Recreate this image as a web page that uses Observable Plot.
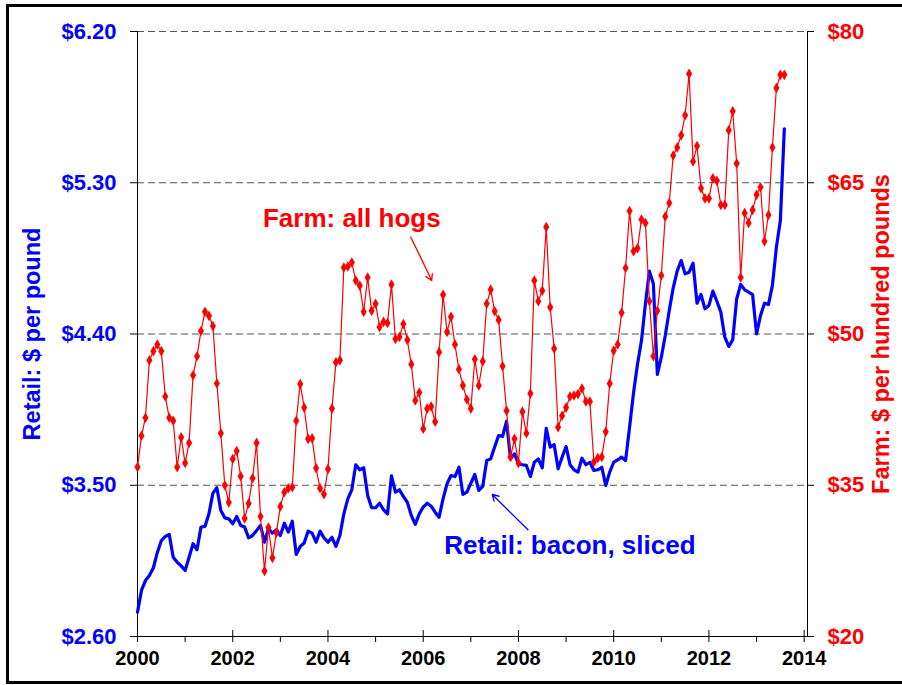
<!DOCTYPE html>
<html><head><meta charset="utf-8">
<script src="https://cdn.jsdelivr.net/npm/d3@7"></script>
<script src="https://cdn.jsdelivr.net/npm/@observablehq/plot@0.6"></script>
<style>
body{margin:0;background:#fff;}
#wrap{position:relative;width:902px;height:685px;overflow:hidden;background:#fff;}
#border{position:absolute;left:6px;top:4px;width:930px;height:680px;border:3px solid #000;box-sizing:border-box;pointer-events:none;}
</style></head><body><div id="wrap"><div id="border"></div></div>
<script>
const startYear = 2000; // first month: January 2000, monthly data

// Retail: bacon, sliced ($ per pound)
const retail = [
2.745,2.874,2.933,2.963,3.009,3.10,3.17,3.195,3.207,3.072,3.042,3.02,
2.993,3.072,3.152,3.116,3.251,3.255,3.330,3.453,3.485,3.350,3.306,3.300,
3.271,3.314,3.261,3.251,3.187,3.201,3.23,3.261,3.161,3.241,3.215,3.235,
3.201,3.274,3.221,3.286,3.088,3.136,3.156,3.227,3.215,3.161,3.227,3.187,
3.161,3.191,3.136,3.201,3.330,3.419,3.473,3.622,3.592,3.604,3.439,3.366,
3.366,3.393,3.354,3.330,3.556,3.459,3.473,3.433,3.399,3.320,3.267,3.330,
3.370,3.393,3.375,3.340,3.310,3.419,3.509,3.558,3.552,3.607,3.445,3.459,
3.512,3.564,3.469,3.493,3.647,3.657,3.727,3.796,3.790,3.881,3.657,3.687,
3.628,3.622,3.618,3.552,3.637,3.657,3.604,3.838,3.727,3.741,3.598,3.667,
3.731,3.622,3.592,3.578,3.661,3.622,3.637,3.588,3.592,3.607,3.499,3.578,
3.637,3.651,3.667,3.647,3.845,4.05,4.22,4.361,4.580,4.774,4.699,4.159,
4.262,4.391,4.540,4.675,4.774,4.837,4.758,4.768,4.821,4.583,4.635,4.550,
4.570,4.655,4.595,4.530,4.381,4.326,4.366,4.610,4.695,4.663,4.649,4.635,
4.401,4.510,4.583,4.575,4.689,4.917,5.075,5.621
];

// Farm: all hogs ($ per hundred pounds)
const farm = [
36.8,39.9,41.7,47.4,48.3,48.95,48.3,43.8,41.7,41.4,36.8,39.75,
37.2,39.2,45.9,47.8,50.3,52.2,51.8,50.8,45.1,40.15,35.0,33.3,
37.6,38.4,35.9,31.7,33.2,35.7,39.2,31.9,26.5,30.8,27.8,30.3,
32.9,34.3,34.7,34.8,41.4,45.05,42.7,39.6,39.65,36.7,34.7,34.1,
36.6,42.6,47.2,47.4,56.6,56.7,57.1,55.3,54.8,52.2,55.6,52.3,
53.0,50.7,51.2,51.1,54.9,49.5,49.7,51.0,49.4,47.0,43.4,44.2,
40.6,42.6,42.8,41.3,48.2,53.9,50.2,51.7,48.95,46.5,44.9,43.5,
42.6,47.5,44.9,47.3,53.0,54.4,52.25,51.4,46.8,42.4,37.8,39.6,
37.2,42.3,40.15,44.1,55.3,53.25,54.3,60.6,52.65,48.55,40.75,41.9,
42.7,43.8,43.9,44.05,44.6,43.3,43.3,37.3,37.7,37.8,40.3,45.1,
48.35,48.95,52.1,56.55,62.2,58.2,58.5,61.35,61.0,53.25,47.8,52.3,
55.8,61.65,63.0,67.7,68.5,69.7,71.7,75.8,67.1,68.65,64.45,63.45,
63.45,65.45,65.2,62.8,62.8,70.2,72.1,66.9,55.6,62.0,61.0,62.3,
63.8,64.55,59.2,61.8,68.5,74.4,75.7,75.7
];

const leftTicks = [2.6, 3.5, 4.4, 5.3, 6.2];
const rightTicks = [20, 35, 50, 65, 80];
const gridValues = [3.5, 4.4, 5.3, 6.2];
const yearTicks = [2000, 2002, 2004, 2006, 2008, 2010, 2012, 2014];
const minorYears = [2001, 2003, 2005, 2007, 2009, 2011, 2013];

const farmLabel = [{text: "Farm: all hogs", year: 2004.50, value: 5.085}];
const retailLabel = [{text: "Retail: bacon, sliced", year: 2009.08, value: 3.14}];
const farmArrow = [{x1: 2005.74, y1: 4.976, x2: 2006.18, y2: 4.718}];
const retailArrow = [{x1: 2008.20, y1: 3.235, x2: 2007.45, y2: 3.445}];

const rMin = 2.6, rMax = 6.2, fMin = 20, fMax = 80;
const xMax = 2014.07;
const toRetail = f => rMin + (f - fMin) * (rMax - rMin) / (fMax - fMin);
const toFarm = r => fMin + (r - rMin) * (fMax - fMin) / (rMax - rMin);

const retailData = retail.map((v, i) => ({year: startYear + i / 12, value: v}));
const farmData = farm.map((v, i) => ({year: startYear + i / 12, value: toRetail(v), farm: v}));

const BLUE = "#0000ff", RED = "#ff0000";
const FONT = "'Liberation Sans', Arial, Helvetica, sans-serif";

const chart = Plot.plot({
  width: 902,
  height: 685,
  marginLeft: 137,
  marginRight: 95,
  marginTop: 31,
  marginBottom: 49,
  style: {fontFamily: FONT, fontWeight: "bold", background: "transparent", overflow: "visible"},
  x: {domain: [2000, xMax], label: null},
  y: {domain: [rMin, rMax], label: null},
  marks: [
    Plot.ruleY(gridValues, {stroke: "#555", strokeWidth: 1.2, strokeDasharray: "7,4"}),
    // axis lines
    Plot.ruleX([2000], {stroke: "#000", strokeWidth: 1}),
    Plot.ruleX([xMax], {stroke: "#000", strokeWidth: 1}),
    Plot.ruleY([rMin], {stroke: "#000", strokeWidth: 1.2}),
    // y tick marks
    Plot.ruleY(leftTicks, {x1: 2000, x2: 2000, insetLeft: -7, stroke: "#000"}),
    Plot.ruleY(rightTicks.map(toRetail), {x1: xMax, x2: xMax, insetRight: -7, stroke: "#000"}),
    // x tick marks
    Plot.ruleX(yearTicks, {y1: rMin, y2: rMin, insetTop: -6, insetBottom: -6, stroke: "#000"}),
    Plot.ruleX(minorYears, {y1: rMin, y2: rMin, insetBottom: -6, stroke: "#000"}),
    // axes labels
    Plot.axisY({ticks: leftTicks, tickSize: 0, tickPadding: 21, tickFormat: d => "$" + d.toFixed(2),
      fill: BLUE, fontSize: 22, fontWeight: "bold", fontFamily: FONT, label: null}),
    Plot.axisY({anchor: "right", ticks: rightTicks.map(toRetail), tickSize: 0, tickPadding: 20,
      tickFormat: d => "$" + Math.round(toFarm(d)), fill: RED, fontSize: 22, fontWeight: "bold", fontFamily: FONT, label: null}),
    Plot.axisX({ticks: yearTicks, tickSize: 0, tickPadding: 14, tickFormat: d => String(d),
      fill: "#000", fontSize: 20, fontWeight: "bold", fontFamily: FONT, label: null}),
    Plot.text(["Retail: $ per pound"], {frameAnchor: "left", textAnchor: "middle", dx: -105, rotate: -90, fill: BLUE,
      fontSize: 23.5, fontWeight: "bold", fontFamily: FONT}),
    Plot.text(["Farm: $ per hundred pounds"], {frameAnchor: "right", textAnchor: "middle", dx: 74, rotate: -90, fill: RED,
      fontSize: 23.5, fontWeight: "bold", fontFamily: FONT}),
    // series
    Plot.line(retailData, {x: "year", y: "value", stroke: BLUE, strokeWidth: 3.2}),
    Plot.line(farmData, {x: "year", y: "value", stroke: RED, strokeWidth: 1.2}),
    Plot.dot(farmData, {x: "year", y: "value", symbol: "diamond", r: 3.2, fill: RED, stroke: null}),
    // annotations
    Plot.text(farmLabel, {x: "year", y: "value", text: "text", fill: RED, fontSize: 26, fontWeight: "bold", fontFamily: FONT}),
    Plot.text(retailLabel, {x: "year", y: "value", text: "text", fill: BLUE, fontSize: 26, fontWeight: "bold", fontFamily: FONT}),
    Plot.arrow(farmArrow, {x1: "x1", y1: "y1", x2: "x2", y2: "y2", stroke: RED, strokeWidth: 1.3, headLength: 8}),
    Plot.arrow(retailArrow, {x1: "x1", y1: "y1", x2: "x2", y2: "y2", stroke: BLUE, strokeWidth: 1.3, headLength: 8})
  ]
});
document.getElementById("wrap").insertBefore(chart, document.getElementById("border"));
</script>
</body></html>
